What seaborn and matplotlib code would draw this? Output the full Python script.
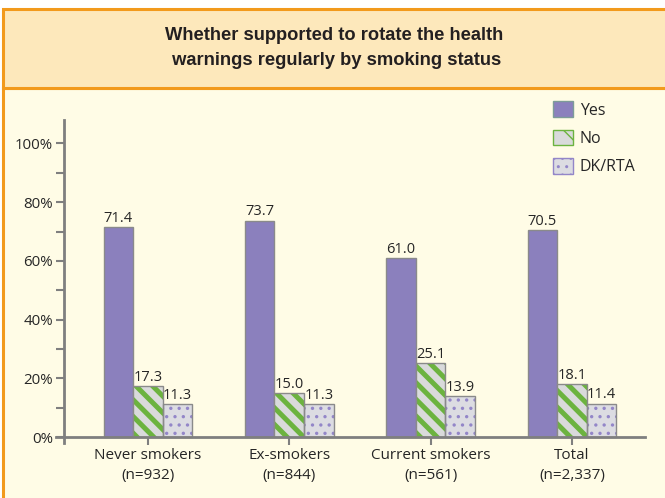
import matplotlib
matplotlib.use("Agg")
import matplotlib.pyplot as plt
import matplotlib.patches as mpatches
from matplotlib.ticker import MultipleLocator, FuncFormatter
import seaborn as sns
import pandas as pd

categories = ["Never smokers\n(n=932)", "Ex-smokers\n(n=844)", "Current smokers\n(n=561)", "Total\n(n=2,337)"]
responses = ["Yes", "No", "DK/RTA"]
yes_vals = [71.4, 73.7, 61.0, 70.5]
no_vals = [17.3, 15.0, 25.1, 18.1]
dk_vals = [11.3, 11.3, 13.9, 11.4]
title = "Whether supported to rotate the health\n warnings regularly by smoking status"

rows = []
for resp, vals in zip(responses, [yes_vals, no_vals, dk_vals]):
    for c, v in zip(categories, vals):
        rows.append({"status": c, "resp": resp, "pct": v})
df = pd.DataFrame(rows)

sns.set_style("white")
plt.rcParams["font.family"] = ["Open Sans", "DejaVu Sans"]

PURPLE = "#8b80bd"
GREEN = "#6cb33f"
GRAYBG = "#d9dadb"
DKBG = "#dcdce2"
DOT = "#9386c8"
EDGE = "#8a8a8a"
LEGEDGE = "#7d9c98"
AXC = "#7f7f7f"
TXT = "#262626"

title_size = 13.2

W, H = 665, 498
fig = plt.figure(figsize=(W / 100, H / 100), dpi=100, facecolor="white")

def fx(px):
    return px / W

def fy(py):
    return 1 - py / H

# Backgrounds
fig.patches.append(mpatches.Rectangle((fx(3), fy(500)), fx(700), fy(88) - fy(500),
                                      transform=fig.transFigure, facecolor="#fffce6",
                                      edgecolor="#f29a1c", lw=2.2, zorder=-10))
fig.patches.append(mpatches.Rectangle((fx(3), fy(88)), fx(700), fy(9) - fy(88),
                                      transform=fig.transFigure, facecolor="#fde8bb",
                                      edgecolor="#f29a1c", lw=2.2, zorder=-10))
fig.text(fx(334), fy(48), title, ha="center", va="center", fontsize=title_size,
         fontweight="bold", family=["Liberation Sans", "DejaVu Sans"], color="#231f20",
         linespacing=29 / (title_size * 100 / 72))

ax = fig.add_axes([fx(56), fy(443), fx(645) - fx(56), fy(120) - fy(443)])
ax.set_zorder(5)
ax.set_facecolor("none")
pal = {"Yes": PURPLE, "No": GRAYBG, "DK/RTA": DKBG}
sns.barplot(data=df, x="status", y="pct", hue="resp", order=categories,
            hue_order=responses, palette=pal, width=0.627, saturation=1,
            legend=False, ax=ax, edgecolor=EDGE, linewidth=1.0, errorbar=None)

# styling of hatched bars
for resp, cont in zip(responses, ax.containers):
    for p in cont.patches:
        if resp == "Yes":
            p.set_edgecolor(EDGE)
            continue
        if resp == "No":
            p.set_hatch("\\\\")
            p.set_edgecolor(GREEN)
            if hasattr(p, "set_hatch_linewidth"):
                p.set_hatch_linewidth(3.6)
        else:
            p.set_hatch("..")
            p.set_edgecolor(DOT)
            if hasattr(p, "set_hatch_linewidth"):
                p.set_hatch_linewidth(1.2)
        p.set_linewidth(0)
        ax.add_patch(mpatches.Rectangle(p.get_xy(), p.get_width(), p.get_height(),
                                        fill=False, edgecolor=EDGE, lw=1.0, zorder=p.get_zorder() + 0.1))
    ax.bar_label(cont, fmt="%.1f", padding=1, fontsize=10.5, color=TXT)

ax.set_ylim(-2, 108)
ax.set_xlim(-0.65, 3.517)
ax.spines["top"].set_visible(False)
ax.spines["right"].set_visible(False)
ax.spines["left"].set_position(("data", -0.594))
ax.spines["bottom"].set_position(("data", 0))
for s in ("left", "bottom"):
    ax.spines[s].set_color(AXC)
    ax.spines[s].set_linewidth(2)
ax.yaxis.set_major_locator(MultipleLocator(20))
ax.yaxis.set_minor_locator(MultipleLocator(10))
ax.set_yticks([0, 20, 40, 60, 80, 100])
ax.yaxis.set_major_formatter(FuncFormatter(lambda v, _: f"{int(v)}%"))
ax.tick_params(axis="y", which="both", direction="out", length=6, width=1.5, color=AXC,
               labelsize=10.8, labelcolor=TXT, pad=2, left=True)
ax.tick_params(axis="x", direction="out", length=6, width=1.5, color=AXC,
               labelsize=11, labelcolor=TXT, pad=2, bottom=True)
ax.set_xlabel("")
ax.set_ylabel("")
for lbl in ax.get_xticklabels():
    lbl.set_linespacing(1.4)

handles = [
    mpatches.Patch(facecolor=PURPLE, edgecolor=LEGEDGE, lw=1, label="Yes"),
    mpatches.Patch(facecolor=GRAYBG, edgecolor=GREEN, hatch="\\", lw=1, label="No"),
    mpatches.Patch(facecolor=DKBG, edgecolor=DOT, hatch="..", lw=1, label="DK/RTA"),
]
leg = fig.legend(handles=handles, loc="upper left", bbox_to_anchor=(fx(539), fy(87)),
                 frameon=False, fontsize=11.5, handlelength=1.2, handleheight=1.15,
                 labelspacing=0.68, handletextpad=0.45, labelcolor=TXT)

fig.savefig("out.png", dpi=100, facecolor="white")
